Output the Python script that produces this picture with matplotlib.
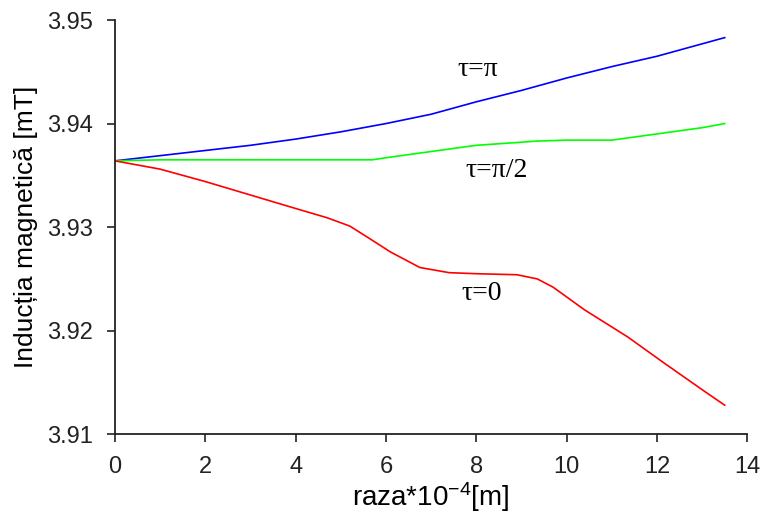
import matplotlib
matplotlib.use("Agg")
import matplotlib.pyplot as plt

# raza * 1e-4 [m]
x_pi = [0, 1, 2, 3, 4, 5, 6, 7, 8, 9, 10, 11, 12, 13, 13.5]
y_pi = [3.9364, 3.9369, 3.9374, 3.9379, 3.9385, 3.9392, 3.9400, 3.9409,
        3.9421, 3.9432, 3.9444, 3.9455, 3.9465, 3.9477, 3.9483]

x_half = [0, 1, 2, 3, 4, 5, 5.7, 6, 7, 8, 9, 9.3, 10, 11, 12, 13, 13.5]
y_half = [3.9364, 3.9365, 3.9365, 3.9365, 3.9365, 3.9365, 3.9365, 3.9367,
          3.9373, 3.9379, 3.9382, 3.9383, 3.9384, 3.9384, 3.9390, 3.9396, 3.9400]

x_zero = [0, 1, 2, 3, 4, 4.7, 5.2, 5.6, 6.1, 6.75, 7.4, 8, 8.9, 9.35, 9.7,
          10.4, 11.35, 12.15, 13, 13.5]
y_zero = [3.9364, 3.9356, 3.9344, 3.9331, 3.9318, 3.9309, 3.9301, 3.9290,
          3.9276, 3.9261, 3.9256, 3.9255, 3.9254, 3.9250, 3.9242, 3.9220,
          3.9194, 3.9169, 3.9143, 3.9128]

xticks = [0, 2, 4, 6, 8, 10, 12, 14]
yticks = [3.91, 3.92, 3.93, 3.94, 3.95]

plt.rcParams["font.family"] = ["Liberation Sans", "DejaVu Sans"]
plt.rcParams["mathtext.fontset"] = "custom"
plt.rcParams["mathtext.rm"] = "Liberation Sans"
plt.rcParams["mathtext.it"] = "Liberation Sans"

fig = plt.figure(figsize=(7.61, 5.2), dpi=100)
ax = fig.add_axes([0.151, 0.165, 0.831, 0.7965])

ax.plot(x_pi, y_pi, color="#0000ff", lw=1.2)
ax.plot(x_half, y_half, color="#00ff00", lw=1.2)
ax.plot(x_zero, y_zero, color="#ff0000", lw=1.2)

serif = ["Liberation Serif", "DejaVu Serif"]
ax.text(8.04, 3.9452, "τ=π", family=serif, fontsize=20, ha="center", va="center")
ax.text(8.46, 3.9355, "τ=π/2", family=serif, fontsize=20, ha="center", va="center")
ax.text(8.13, 3.9236, "τ=0", family=serif, fontsize=20, ha="center", va="center")

ax.set_xlim(0, 14)
ax.set_ylim(3.91, 3.95)
ax.set_xticks(xticks)
ax.set_yticks(yticks)
ax.set_yticklabels(["%.2f" % v for v in yticks])

ax.spines["top"].set_visible(False)
ax.spines["right"].set_visible(False)
for s in ["left", "bottom"]:
    ax.spines[s].set_linewidth(1.3)
    ax.spines[s].set_color("#222222")
ax.tick_params(direction="out", length=6, width=1.2, labelsize=17, colors="#222222")
ax.tick_params(axis="x", pad=10)
ax.tick_params(axis="y", pad=10)

ax.set_xlabel(r"raza*10$^{-4}$[m]", fontsize=20, labelpad=1)
ax.set_ylabel("Inducția magnetică [mT]", fontsize=19, labelpad=6)

fig.savefig("out.png", dpi=100)
